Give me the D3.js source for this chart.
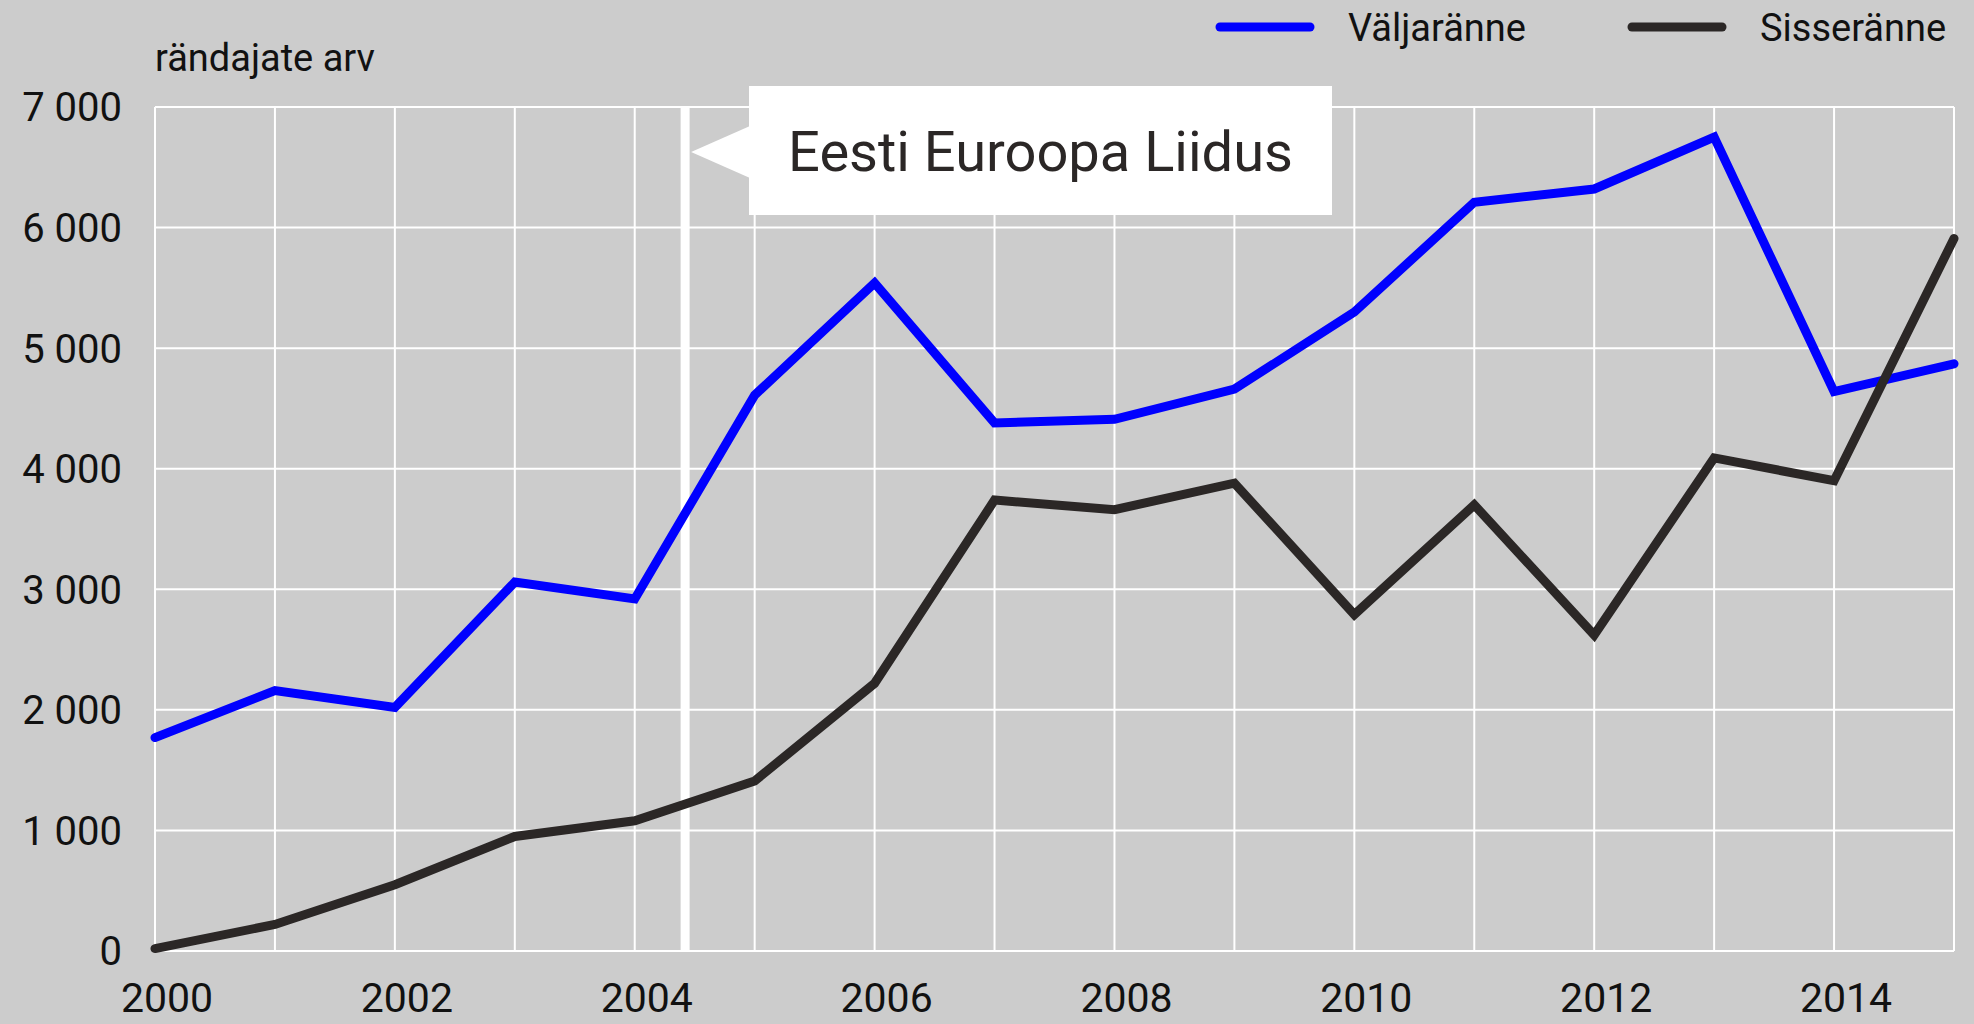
<!DOCTYPE html>
<html>
<head>
<meta charset="utf-8">
<script src="https://cdn.jsdelivr.net/npm/d3@7"></script>
<style>
  body { margin: 0; background: #cccccc; }
  svg { display: block; font-family: Roboto, "Noto Sans", sans-serif; }
</style>
</head>
<body>
<svg width="1974" height="1024"></svg>
<script>
var years = d3.range(2000, 2016);
var valjaranne = [1770, 2160, 2020, 3060, 2920, 4610, 5540, 4380, 4410, 4660, 5300, 6210, 6320, 6750, 4640, 4870];
var sisseranne = [20, 220, 550, 950, 1080, 1410, 2220, 3740, 3660, 3880, 2790, 3700, 2620, 4090, 3900, 5910];
var yTicks = [0, 1000, 2000, 3000, 4000, 5000, 6000, 7000];
var xTicks = [2000, 2002, 2004, 2006, 2008, 2010, 2012, 2014];
var euYear = 2004.42;
var euLabel = "Eesti Euroopa Liidus";
var series = [
  {name: "Väljaränne", values: valjaranne, color: "#0000ff"},
  {name: "Sisseränne", values: sisseranne, color: "#2b2726"}
];

var svg = d3.select("svg"),
  margin = {top: 107, right: 20, bottom: 73, left: 155},
  width = +svg.attr("width") - margin.left - margin.right,
  height = +svg.attr("height") - margin.top - margin.bottom;

svg.append("rect").attr("width", 1974).attr("height", 1024).attr("fill", "#cccccc");

var x = d3.scaleLinear().domain([2000, 2015]).range([0, width]),
  y = d3.scaleLinear().domain([0, 7000]).range([height, 0]);

var g = svg.append("g")
  .attr("transform", "translate(" + margin.left + "," + margin.top + ")");

// grid
g.append("g").selectAll("line.v")
  .data(years)
  .enter().append("line")
  .attr("x1", function(d) { return x(d); })
  .attr("x2", function(d) { return x(d); })
  .attr("y1", 0).attr("y2", height)
  .attr("stroke", "#fff").attr("stroke-width", 2);

g.append("g").selectAll("line.h")
  .data(yTicks)
  .enter().append("line")
  .attr("x1", 0).attr("x2", width)
  .attr("y1", function(d) { return y(d); })
  .attr("y2", function(d) { return y(d); })
  .attr("stroke", "#fff").attr("stroke-width", 2);

// y labels, space as thousands separator
var fmt = function(d) { return d3.format(",")(d).replace(",", " "); };
g.append("g").selectAll("text")
  .data(yTicks)
  .enter().append("text")
  .attr("x", -33)
  .attr("y", function(d) { return y(d); })
  .attr("dy", "0.36em")
  .attr("text-anchor", "end")
  .attr("font-size", 40)
  .attr("fill", "#111")
  .text(fmt);

// x labels (sit a bit right of their gridline, as in the original)
g.append("g").selectAll("text")
  .data(xTicks)
  .enter().append("text")
  .attr("x", function(d) { return x(d) + 12; })
  .attr("y", height + 61)
  .attr("text-anchor", "middle")
  .attr("font-size", 41)
  .attr("fill", "#111")
  .text(function(d) { return d; });

svg.append("text")
  .attr("x", margin.left)
  .attr("y", 71)
  .attr("font-size", 38)
  .attr("fill", "#111")
  .text("rändajate arv");

// EU accession marker
var ex = x(euYear);
g.append("line")
  .attr("x1", ex).attr("x2", ex)
  .attr("y1", 0).attr("y2", height)
  .attr("stroke", "#fff").attr("stroke-width", 9);

var boxL = 749 - margin.left, boxT = 86 - margin.top, boxW = 583, boxH = 129;
g.append("path")
  .attr("d", "M" + (ex + 6) + "," + (boxT + 66) + "L" + (boxL + 1) + "," + (boxT + 40) + "L" + (boxL + 1) + "," + (boxT + 92) + "Z")
  .attr("fill", "#fff");
g.append("rect")
  .attr("x", boxL).attr("y", boxT)
  .attr("width", boxW).attr("height", boxH)
  .attr("fill", "#fff");
g.append("text")
  .attr("x", boxL + boxW / 2)
  .attr("y", boxT + boxH / 2)
  .attr("dy", "0.36em")
  .attr("text-anchor", "middle")
  .attr("font-size", 56)
  .attr("fill", "#2b2726")
  .text(euLabel);

// lines
var line = d3.line()
  .x(function(d, i) { return x(years[i]); })
  .y(function(d) { return y(d); });

g.selectAll(".series")
  .data(series)
  .enter().append("path")
  .attr("class", "series")
  .attr("d", function(d) { return line(d.values); })
  .attr("fill", "none")
  .attr("stroke", function(d) { return d.color; })
  .attr("stroke-width", 9)
  .attr("stroke-linecap", "round")
  .attr("stroke-linejoin", "miter");

// legend
var legend = svg.append("g").selectAll("g")
  .data(series)
  .enter().append("g")
  .attr("transform", function(d, i) { return "translate(" + [1220, 1632][i] + ",27)"; });

legend.append("line")
  .attr("x1", 0).attr("x2", 90)
  .attr("stroke", function(d) { return d.color; })
  .attr("stroke-width", 9)
  .attr("stroke-linecap", "round");

legend.append("text")
  .attr("x", 128)
  .attr("dy", "0.36em")
  .attr("font-size", 38)
  .attr("fill", "#111")
  .text(function(d) { return d.name; });
</script>
</body>
</html>
